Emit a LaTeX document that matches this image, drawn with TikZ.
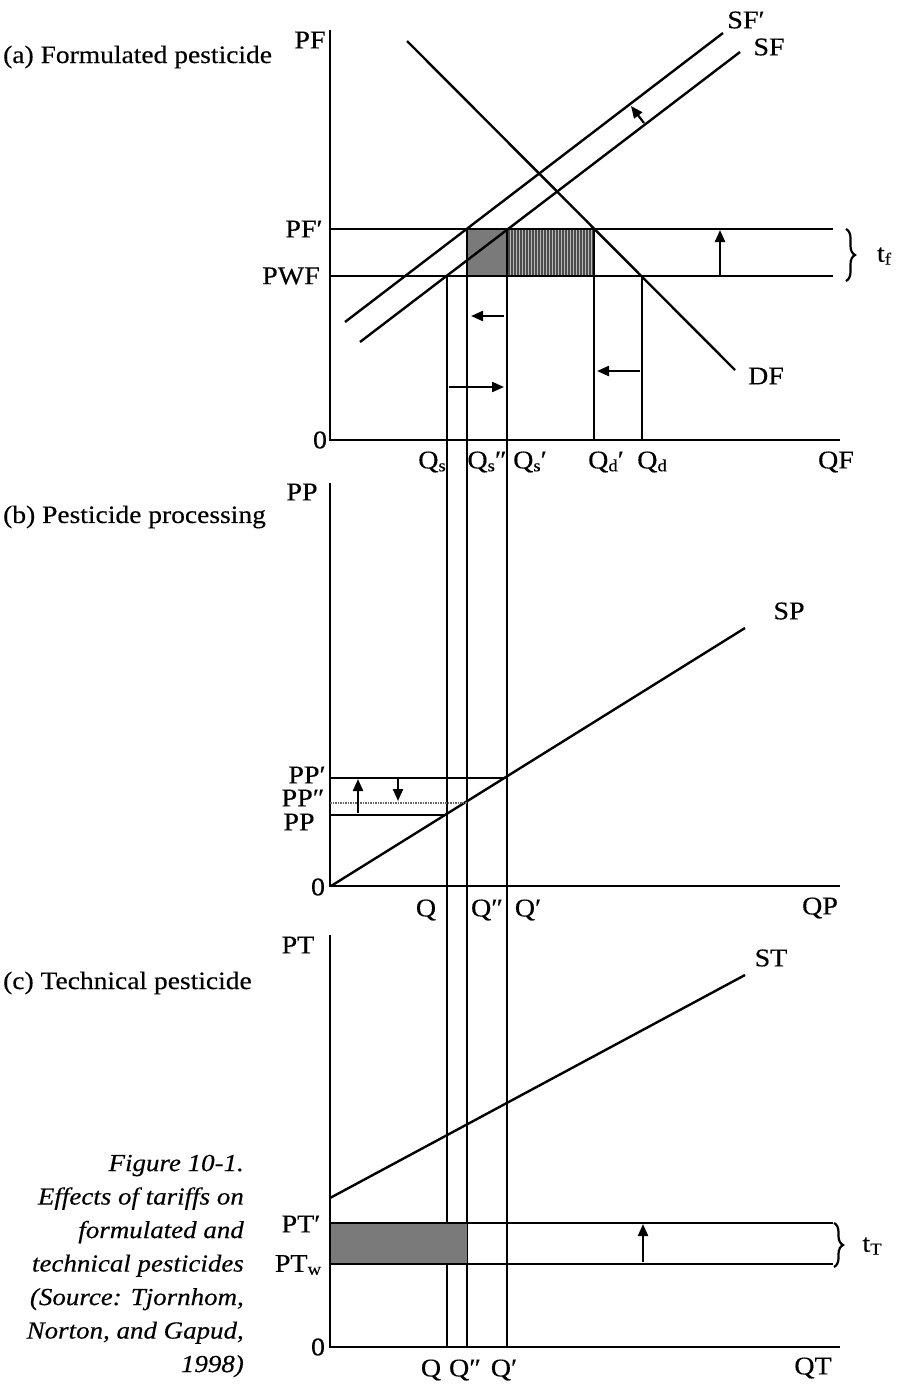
\documentclass[tikz,border=0pt]{standalone}
\usepackage{fontspec}
\setmainfont{Liberation Serif}
\newfontfamily\labfont[FakeStretch=1.1,FakeBold=0.3]{Liberation Serif}
\newfontfamily\capfont[FakeStretch=1.1,FakeBold=0.3]{Liberation Serif}
\usetikzlibrary{arrows.meta,decorations.pathreplacing}
\newcommand{\lbl}{\labfont\fontsize{25.5}{30}\selectfont}
\newcommand{\ttlf}{\labfont\fontsize{25}{30}\selectfont}
\newcommand{\capf}{\capfont\itshape\fontsize{24.5}{33.5}\selectfont}
\newcommand{\sbs}[1]{\raisebox{-0.25ex}{\fontsize{17}{19}\selectfont #1}}
\tikzset{
  axis/.style={line width=2.8pt},
  crv/.style={line width=2.4pt},
  vln/.style={line width=2.2pt},
  thinv/.style={line width=1.4pt},
  arr/.style={line width=2.2pt,-{Triangle[length=12pt,width=10pt]}},
  lab/.style={font=\lbl, inner sep=0pt},
  ttl/.style={font=\ttlf, inner sep=0pt, anchor=west},
  brc/.style={line width=2.2pt, decorate, decoration={brace, amplitude=9pt}},
  shade/.style={fill=black!52},
}
\begin{document}
\begin{tikzpicture}[x=1pt,y=-1pt]
\path[use as bounding box] (0,0) rectangle (903,1386);
\fill[white] (0,0) rectangle (903,1386);

% ===== panel (a) =====
\coordinate (Aor) at (330,440);
\coordinate (Atop) at (330,30);
\coordinate (Aend) at (840,440);
\coordinate (PFpL) at (330,229); \coordinate (PFpR) at (833,229);
\coordinate (PWFL) at (330,276); \coordinate (PWFR) at (833,276);

% shaded areas
\fill[shade] (467,229) rectangle (507,276);
\fill[black!28] (507,229) rectangle (594,276);
\foreach \xx in {509,512,...,593} \draw[line width=1.2pt, black!70] (\xx,229) -- (\xx,276);

\draw[axis] (Atop) -- (Aor) -- (Aend);
\draw[crv] (PFpL) -- (PFpR);
\draw[crv] (PWFL) -- (PWFR);

\coordinate (DF1) at (407,41); \coordinate (DF2) at (735,370);
\coordinate (SF1) at (360,342); \coordinate (SF2) at (740,52);
\coordinate (SFp1) at (345,322); \coordinate (SFp2) at (723,33);
\draw[crv] (DF1) -- (DF2);
\draw[crv] (SF1) -- (SF2);
\draw[crv] (SFp1) -- (SFp2);
\coordinate (sa1) at (644,123); \coordinate (sa2) at (631,106);
\draw[arr] (sa1) -- (sa2);

% verticals
\coordinate (Vs1) at (447,276);  \coordinate (Vs2) at (447,1347);
\coordinate (Vss1) at (467,229); \coordinate (Vss2) at (467,1347);
\coordinate (Vsp1) at (507,229); \coordinate (Vsp2) at (507,1347);
\coordinate (Vdp1) at (594,229); \coordinate (Vdp2) at (594,440);
\coordinate (Vd1) at (642,276);  \coordinate (Vd2) at (642,440);
\draw[vln] (Vs1) -- (Vs2);
\draw[thinv] (Vss1) -- (Vss2);
\draw[vln] (Vsp1) -- (Vsp2);
\draw[vln] (Vdp1) -- (Vdp2);
\draw[vln] (Vd1) -- (Vd2);

% shift arrows
\coordinate (a1s) at (504,316); \coordinate (a1e) at (471,316);
\coordinate (a2s) at (449,387); \coordinate (a2e) at (504,387);
\coordinate (a3s) at (640,371); \coordinate (a3e) at (597,371);
\coordinate (a4s) at (720,275); \coordinate (a4e) at (720,230);
\draw[arr] (a1s) -- (a1e);
\draw[arr] (a2s) -- (a2e);
\draw[arr] (a3s) -- (a3e);
\draw[arr] (a4s) -- (a4e);

\coordinate (b1t) at (846,229); \coordinate (b1b) at (846,281);
\draw[brc] (b1t) -- (b1b);

\node[ttl] (ta) at (3,57) {(a) Formulated pesticide};
\node[lab] (lPF) at (310,40) {PF};
\node[lab] (lSFp) at (746,20) {SF′};
\node[lab] (lSF) at (769,47) {SF};
\node[lab] (lDF) at (766,376) {DF};
\node[lab] (lPFp) at (304,229) {PF′};
\node[lab] (lPWF) at (291,276) {PWF};
\node[lab] (l0a) at (320,440) {0};
\node[lab] (ltf) at (884,256) {t\sbs{f}};
\node[lab] (lQs) at (432,462) {Q\sbs{s}};
\node[lab] (lQss) at (487,462) {Q\sbs{s}″};
\node[lab] (lQsp) at (530,462) {Q\sbs{s}′};
\node[lab] (lQdp) at (606,462) {Q\sbs{d}′};
\node[lab] (lQd) at (652,462) {Q\sbs{d}};
\node[lab] (lQF) at (836,462) {QF};

% ===== panel (b) =====
\coordinate (Bor) at (330,886);
\coordinate (Btop) at (330,483);
\coordinate (Bend) at (840,886);
\draw[axis] (Btop) -- (Bor) -- (Bend);
\coordinate (SP1) at (331,886); \coordinate (SP2) at (745,628);
\draw[crv] (SP1) -- (SP2);
\coordinate (PPpL) at (330,778); \coordinate (PPpR) at (507,778);
\coordinate (PPssL) at (330,803); \coordinate (PPssR) at (467,803);
\coordinate (PPL) at (330,815); \coordinate (PPR) at (447,815);
\draw[crv] (PPpL) -- (PPpR);
\draw[line width=1.4pt, black!60, dash pattern=on 1.5pt off 1pt] (PPssL) -- (PPssR);
\draw[crv] (PPL) -- (PPR);
\coordinate (b1s) at (358,813); \coordinate (b1e) at (358,779);
\coordinate (b2s) at (398,779); \coordinate (b2e) at (398,801);
\draw[arr] (b1s) -- (b1e);
\draw[arr] (b2s) -- (b2e);

\node[ttl] (tb) at (3,517) {(b) Pesticide processing};
\node[lab] (lPP0) at (302,492) {PP};
\node[lab] (lPPp) at (307,775) {PP′};
\node[lab] (lPPss) at (303,798) {PP″};
\node[lab] (lPP) at (299,822) {PP};
\node[lab] (l0b) at (318,887) {0};
\node[lab] (lSP) at (789,611) {SP};
\node[lab] (lQb) at (426,910) {Q};
\node[lab] (lQbss) at (487,910) {Q″};
\node[lab] (lQbp) at (528,910) {Q′};
\node[lab] (lQP) at (820,908) {QP};

% ===== panel (c) =====
\fill[shade] (330,1223) rectangle (467,1264);
\coordinate (Cor) at (330,1347);
\coordinate (Ctop) at (330,935);
\coordinate (Cend) at (840,1347);
\draw[axis] (Ctop) -- (Cor) -- (Cend);
\coordinate (ST1) at (330,1198); \coordinate (ST2) at (745,975);
\draw[crv] (ST1) -- (ST2);
\coordinate (PTpL) at (330,1223); \coordinate (PTpR) at (833,1223);
\coordinate (PTwL) at (330,1264); \coordinate (PTwR) at (833,1264);
\draw[crv] (PTpL) -- (PTpR);
\draw[crv] (PTwL) -- (PTwR);
\coordinate (c1s) at (643,1262); \coordinate (c1e) at (643,1224);
\draw[arr] (c1s) -- (c1e);
\coordinate (b2t) at (834,1223); \coordinate (b2b) at (834,1267);
\draw[brc] (b2t) -- (b2b);

\node[ttl] (tc) at (3,983) {(c) Technical pesticide};
\node[lab] (lPT0) at (298,945) {PT};
\node[lab] (lPTp) at (301,1224) {PT′};
\node[lab] (lPTw) at (298,1265) {PT\sbs{w}};
\node[lab] (l0c) at (318,1347) {0};
\node[lab] (lST) at (771,958) {ST};
\node[lab] (ltT) at (872,1246) {t\sbs{T}};
\node[lab] (lQc) at (431,1370) {Q};
\node[lab] (lQcss) at (465,1370) {Q″};
\node[lab] (lQcp) at (504,1370) {Q′};
\node[lab] (lQT) at (813,1368) {QT};

% caption
\node[font=\capf, align=right, anchor=east, inner sep=0pt] (cap) at (244,1266)
  {Figure 10-1.\\Effects of tariffs on\\formulated and\\technical pesticides\\(Source: Tjornhom,\\Norton, and Gapud,\\1998)};
\end{tikzpicture}
\end{document}
